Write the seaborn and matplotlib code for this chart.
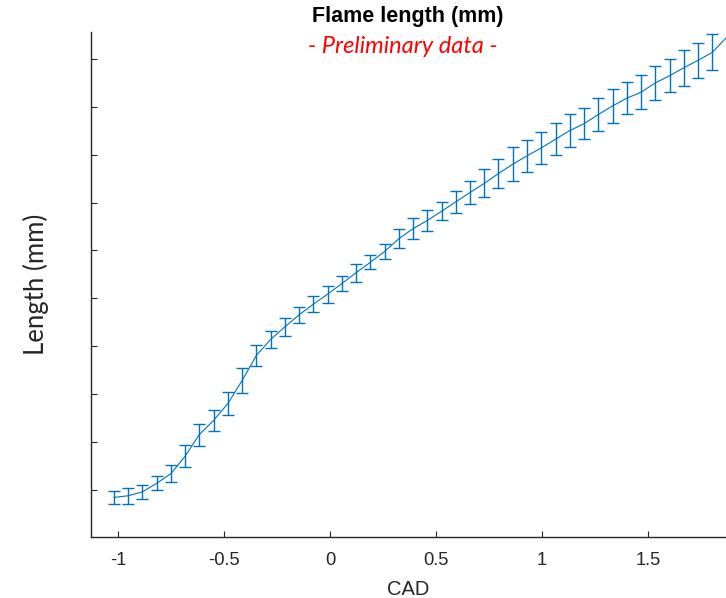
import numpy as np
import pandas as pd
import matplotlib
matplotlib.use("Agg")
import matplotlib.pyplot as plt
import seaborn as sns

# crank angle positions of the averaged samples
cad = [-1.019, -0.952, -0.885, -0.817, -0.750, -0.683, -0.616, -0.549, -0.481, -0.414,
       -0.347, -0.280, -0.213, -0.145, -0.078, -0.011, 0.056, 0.123, 0.191, 0.258,
       0.325, 0.392, 0.459, 0.527, 0.594, 0.661, 0.728, 0.795, 0.863, 0.930,
       0.997, 1.064, 1.131, 1.199, 1.266, 1.333, 1.400, 1.467, 1.535, 1.602,
       1.669, 1.736, 1.803, 1.871]

# mean flame length (mm)
length = [1.70, 1.77, 1.93, 2.29, 2.69, 3.42, 4.32, 4.91, 5.62, 6.58,
          7.62, 8.29, 8.81, 9.32, 9.76, 10.18, 10.62, 11.07, 11.51, 11.96,
          12.49, 12.91, 13.25, 13.64, 14.03, 14.42, 14.80, 15.21, 15.60, 15.95,
          16.28, 16.64, 17.00, 17.29, 17.67, 18.03, 18.35, 18.60, 18.99, 19.29,
          19.62, 19.93, 20.26, 20.89]

# standard deviation for the points that carry an error bar
spread = [0.27, 0.34, 0.30, 0.29, 0.35, 0.46, 0.46, 0.44, 0.49, 0.53,
          0.43, 0.36, 0.38, 0.33, 0.34, 0.35, 0.32, 0.375, 0.30, 0.31,
          0.40, 0.44, 0.44, 0.38, 0.46, 0.48, 0.58, 0.60, 0.70, 0.675,
          0.67, 0.67, 0.69, 0.65, 0.70, 0.71, 0.67, 0.72, 0.72, 0.68,
          0.74, 0.74, 0.75]

y_ticks = [2, 4, 6, 8, 10, 12, 14, 16, 18, 20]

df = pd.DataFrame({"CAD": cad, "Length": length})
n_err = len(spread)

sns.set_theme(style="ticks")
plt.rcParams["font.family"] = ["Liberation Sans", "DejaVu Sans"]

blue = "#0072BD"
fig = plt.figure(figsize=(7.26, 5.98), dpi=100)
ax = fig.add_axes([0.1253, 0.102, 0.8747, 0.844])

sns.lineplot(data=df, x="CAD", y="Length", color=blue, linewidth=0.8, ax=ax)
ax.errorbar(df["CAD"][:n_err], df["Length"][:n_err], yerr=spread, fmt="none",
            ecolor=blue, elinewidth=1.0, capsize=4.2, capthick=1.0)

ax.set_xlim(-1.127, 1.868)
ax.set_ylim(0.05, 21.1)
ax.set_xticks([-1, -0.5, 0, 0.5, 1, 1.5])
ax.set_xticklabels(["-1", "-0.5", "0", "0.5", "1", "1.5"])
ax.set_yticks(y_ticks)
ax.set_yticklabels([])

for side in ["top", "right"]:
    ax.spines[side].set_visible(False)
for side in ["left", "bottom"]:
    ax.spines[side].set_color("#262626")
    ax.spines[side].set_linewidth(1.0)
ax.tick_params(axis="both", direction="in", length=4.2, width=0.8, color="#262626")
ax.tick_params(axis="x", labelsize=13.2, labelcolor="#262626", pad=10.5)

ax.set_xlabel("CAD", fontsize=14.5, color="#262626", labelpad=8)
ax.set_ylabel("Length (mm)", fontsize=18.5, family=["Lato", "DejaVu Sans"], labelpad=27)

fig.text(0.561, 0.972, "Flame length (mm)", ha="center", va="center",
         fontsize=15.5, fontweight="bold", color="black")
fig.text(0.555, 0.923, "- Preliminary data -", ha="center", va="center",
         fontsize=17, style="italic", color="red", family=["Lato", "DejaVu Sans"])

fig.savefig("out.png", dpi=100)
